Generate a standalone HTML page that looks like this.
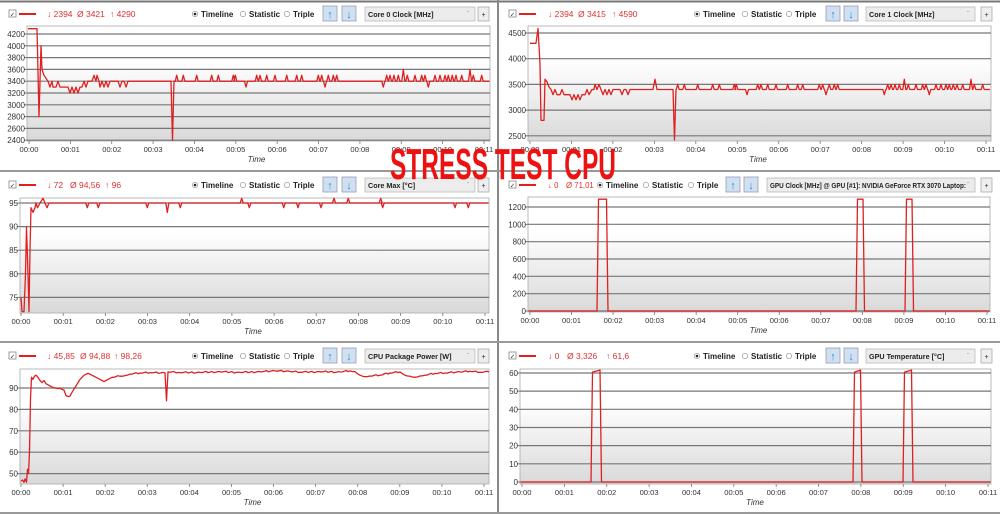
<!DOCTYPE html>
<html><head><meta charset="utf-8">
<style>
html,body{margin:0;padding:0;background:#fff;width:1000px;height:514px;overflow:hidden}
svg{display:block}
text{font-family:"Liberation Sans",sans-serif}
</style></head>
<body>
<svg id="s" width="1000" height="514" viewBox="0 0 1000 514" xmlns="http://www.w3.org/2000/svg">
<defs>
<linearGradient id="bg" x1="0" y1="0" x2="0" y2="1">
<stop offset="0" stop-color="#ffffff"/>
<stop offset="0.3" stop-color="#ffffff"/>
<stop offset="1" stop-color="#d9d9d9"/>
</linearGradient>
</defs>
</svg>
<script>
var S=document.getElementById('s');var out='';
function T(x,y,s,o){o=o||{};out+='<text x="'+x+'" y="'+y+'" font-size="'+(o.fs||8)+'" fill="'+(o.c||'#222')+'"'+(o.b?' font-weight="bold"':'')+(o.a?' text-anchor="'+o.a+'"':'')+(o.i?' font-style="italic"':'')+(o.tl?' textLength="'+o.tl+'" lengthAdjust="spacingAndGlyphs"':'')+'>'+s+'</text>';}
function R(x,y,w,h,f,st){out+='<rect x="'+x+'" y="'+y+'" width="'+w+'" height="'+h+'" fill="'+f+'"'+(st?' stroke="'+st+'" stroke-width="0.8"':'')+'/>';}
function L(x1,y1,x2,y2,c,w){out+='<line x1="'+x1+'" y1="'+y1+'" x2="'+x2+'" y2="'+y2+'" stroke="'+c+'" stroke-width="'+w+'"/>';}
L(0,1.5,1000,1.5,'#777',2);
L(498,0,498,514,'#888',2);
L(0,171,1000,171,'#999',2);
L(0,342,1000,342,'#999',2);
L(0,513,1000,513,'#999',2);

function header(ox,hy,vals,drop,pos){
 R(ox+9,hy-4,7,7,'#fff','#888');T(ox+10,hy+2.5,'✓',{fs:6});
 L(ox+19,hy,ox+36,hy,'#e02020',2);
 T(pos.v1,hy+3,vals[0],{c:'#e03030',fs:pos.vf||8.5});
 T(pos.v2,hy+3,vals[1],{c:'#e03030',fs:pos.vf||8.5});
 if(vals[2])T(pos.v3,hy+3,vals[2],{c:'#e03030',fs:8.5});
 function radio(x,lab,on){out+='<circle cx="'+x+'" cy="'+hy+'" r="2.7" fill="#fff" stroke="#888" stroke-width="0.6"/>';if(on)out+='<circle cx="'+x+'" cy="'+hy+'" r="1.3" fill="#222"/>';T(x+6,hy+3,lab,{b:1,fs:8});}
 radio(pos.tl,'Timeline',1);radio(pos.st,'Statistic');radio(pos.tr,'Triple');
 R(pos.b1,hy-8,14,15,'#cfe0f0','#99b');T(pos.b1+7,hy+4,'↑',{fs:11,c:'#3a8ad8',a:'middle',b:1});
 R(pos.b2,hy-8,14,15,'#cfe0f0','#99b');T(pos.b2+7,hy+4,'↓',{fs:11,c:'#3a8ad8',a:'middle',b:1});
 R(pos.dd,hy-7,pos.dw,14,'#ececec','#bbb');T(pos.dd+3,hy+3,drop,{b:1,fs:7.2,tl:pos.dtl});T(pos.dd+pos.dw-8,hy+2,'ˇ',{fs:6,c:'#888'});
 R(pos.pl,hy-7,11,14,'#eee','#aaa');T(pos.pl+5.5,hy+3,'+',{fs:7,a:'middle'});
}
function plot(p){
 R(p.x0,p.y0,p.x1-p.x0,p.y1-p.y0,'url(#bg)','#aaa');
 p.yt.forEach(function(t){var y=p.fy(t);L(p.x0,y,p.x1,y,'#777',1.2);L(p.x0-3,y,p.x0,y,'#777',1);T(p.x0-2,y+3,t,{a:'end',fs:8,c:'#333'});});
 for(var i=0;i<=11;i++){var x=p.tx0+(p.tx1-p.tx0)*i/11;L(x,p.y1,x,p.y1+3,'#777',0.8);T(x,p.y1+11,'00:'+(i<10?'0':'')+i,{a:'middle',fs:7.6,c:'#333'});}
 T((p.tx0+p.tx1)/2,p.y1+21,'Time',{i:1,a:'middle',fs:8,c:'#333'});
 var d='';p.pts.forEach(function(q,i){d+=(i?'L':'M')+q[0].toFixed(1)+' '+p.fy(q[1]).toFixed(1);});
 out+='<path d="'+d+'" fill="none" stroke="#e02020" stroke-width="1.3" stroke-linejoin="round"/>';
}
function spiky(start,base,spikes,end){
 var pts=start.slice();spikes.sort(function(a,b){return a[0]-b[0]});
 spikes.forEach(function(s){var w=s[2]||1.5;pts.push([s[0]-w,base],[s[0],s[1]],[s[0]+w,base]);});
 pts.push([end,base]);return pts;}
var tlSp=[[530,3500],[550,3500],[590,3500],[635,3500],[655,3500],[700,3500],[706,3500],[738,3300],[770,3500],[780,3500],[800,3500],[825,3500],[860,3500],[890,3500],[905,3500],[955,3500],[965,3500],[975,3300],[985,3500],[1000,3500],[1010,3500],[1150,3300],[1160,3500],[1170,3500],[1182,3500],[1195,3500],[1210,3600],[1222,3500],[1245,3500],[1265,3500],[1275,3500],[1285,3300],[1305,3500],[1320,3500],[1335,3500],[1345,3500],[1357,3500],[1368,3500],[1385,3500],[1410,3600],[1420,3500],[1445,3500]].map(function(s){return [s[0]/3,s[1],1.5]});
var tlStart=[[28,4290],[37,4290],[39,2800],[41,4000],[42,3600],[44,3500],[46,3450],[48,3400],[50,3300],[52,3400],[53,3300],[56,3300],[58,3400],[60,3300],[64,3300],[68,3300],[70,3200],[72,3300],[74,3200],[76,3300],[78,3200],[80,3300],[82,3300],[84,3400],[86,3300],[88,3400],[92,3400],[94,3500],[96,3400],[97,3500],[99,3400],[100,3300],[102,3400],[104,3300],[106,3400],[108,3300],[110,3400],[112,3400],[118,3400],[120,3300],[122,3400],[124,3400],[126,3300],[128,3400],[171,3400],[172.5,2400],[174,3400],[176,3400]];
header(0,14,['↓ 2394','Ø 3421','↑ 4290'],'Core 0 Clock [MHz]',{v1:47,v2:77,v3:110,tl:195,st:243,tr:287,b1:323,b2:342,dd:365,dw:110,pl:478});
plot({x0:27,x1:490,y0:26,y1:141,tx0:29,tx1:484,yt:[4200,4000,3800,3600,3400,3200,3000,2800,2600,2400],fy:function(v){return 34+(4200-v)/200*11.8},pts:spiky(tlStart,3400,tlSp,489)});
var trSp=tlSp.map(function(s){return [s[0]+501,s[1],1.5]}).filter(function(s){return s[0]>676});
var trStart=[[530,4300],[536,4300],[538,4590],[540,3900],[541,2800],[544,2800],[545,3600],[547,3550],[549,3450],[551,3400],[553,3300],[555,3400],[557,3300],[560,3300],[562,3400],[564,3300],[570,3300],[572,3200],[574,3300],[576,3200],[578,3300],[580,3200],[582,3300],[585,3300],[587,3400],[589,3300],[592,3400],[594,3400],[595,3500],[597,3400],[599,3500],[601,3400],[603,3300],[605,3400],[607,3300],[609,3400],[611,3300],[613,3400],[620,3400],[622,3300],[624,3400],[626,3400],[628,3300],[630,3400],[653,3400],[655,3600],[657,3400],[673,3400],[674.5,2420],[676,3400]];
header(500,14,['↓ 2394','Ø 3415','↑ 4590'],'Core 1 Clock [MHz]',{v1:548,v2:578,v3:612,tl:697,st:745,tr:789,b1:826,b2:844,dd:866,dw:109,pl:981});
plot({x0:528,x1:991,y0:26,y1:141,tx0:530,tx1:986,yt:[4500,4000,3500,3000,2500],fy:function(v){return 33+(4500-v)/500*25.7},pts:spiky(trStart,3400,trSp,990)});
var mlStart=[[21,75],[22,72],[24,72],[25.5,80],[26.5,90],[28,80],[29,72],[30,85],[31,94],[33,93],[35,94],[36,95],[37.5,94],[40,95],[43,96],[45,95],[47,94],[49,95]];
var mlSp=[[262,94],[295,94],[442,94],[502,93],[541,94],[725,96],[748,94],[851,94],[894,94],[963,94],[1002,96],[1045,96],[1142,96],[1148,94],[1365,94],[1405,94]].map(function(s){return [s[0]/3,s[1],1.5]});
header(0,185,['↓ 72','Ø 94,56','↑ 96'],'Core Max [°C]',{v1:47,v2:70,v3:105,tl:195,st:243,tr:287,b1:323,b2:342,dd:365,dw:110,pl:478});
plot({x0:20,x1:489,y0:198,y1:313,tx0:21,tx1:485,yt:[95,90,85,80,75],fy:function(v){return 203+(95-v)*4.72},pts:spiky(mlStart,95,mlSp,488)});
function pulses(x0,x1,ps,hi,hi2){var p=[[x0,0]];ps.forEach(function(a){p.push([a[0],0],[a[0]+1.5,hi],[a[1]-1.5,hi2],[a[1],0]);});p.push([x1,0]);return p;}
header(500,185,['↓ 0','Ø 71,01',''],'GPU Clock [MHz] @ GPU [#1]: NVIDIA GeForce RTX 3070 Laptop:',{v1:548,v2:566,v3:0,vf:7.8,tl:600,st:646,tr:691,b1:726,b2:744,dd:767,dw:208,dtl:196,pl:981});
plot({x0:528,x1:990,y0:197,y1:312,tx0:530,tx1:987,yt:[1200,1000,800,600,400,200,0],fy:function(v){return 311-(v/1200)*104},pts:pulses(529,989,[[597,608],[856,864.5],[905,913.5]],1290,1290)});
var blPts=[[21,46.5],[22.5,47],[24,46],[25,47.5],[26.5,46],[27.5,52],[28.5,50],[29.5,60],[30.5,85],[31.5,95],[33,94],[34.5,95.5],[36,96],[38,95],[40,93.5],[42,92.5],[44,93.5],[46,92],[50,91],[55,90],[60,89.8],[64,89],[66,86.5],[68,86],[70,86.2],[72,88],[76,91],[80,94],[84,96],[88,96.8],[92,96],[96,95],[100,94],[104,93],[108,94],[112,95],[120,95.5],[125,95.8],[130,96.5],[140,97],[150,97.2],[165,97],[166.5,84],[168,97.5],[180,97.2],[200,97.3],[220,97.6],[240,97.3],[260,97.6],[275,98],[290,97.7],[300,97.4],[320,97.6],[340,97.5],[350,98],[355,97.6],[360,96],[365,95.3],[370,95.6],[380,96],[390,97],[400,97.5],[405,96],[410,95.5],[415,95],[420,95.6],[425,96],[435,96.8],[445,97],[460,97.5],[470,97.8],[480,97.4],[489,97.5]];
var bl2=[];for(var i=0;i<blPts.length-1;i++){var a=blPts[i],b=blPts[i+1];bl2.push(a);if(a[0]>35&&b[0]-a[0]>4){var n=Math.floor((b[0]-a[0])/2);for(var k=1;k<n;k++){var t=k/n;bl2.push([a[0]+(b[0]-a[0])*t,a[1]+(b[1]-a[1])*t+((k*37%7)-3)*0.12]);}}}bl2.push(blPts[blPts.length-1]);
header(0,356,['↓ 45,85','Ø 94,88','↑ 98,26'],'CPU Package Power [W]',{v1:47,v2:80,v3:114,tl:195,st:243,tr:287,b1:323,b2:342,dd:365,dw:110,pl:478});
plot({x0:20,x1:489,y0:369,y1:484,tx0:21,tx1:484,yt:[90,80,70,60,50],fy:function(v){return 388+(90-v)*2.14},pts:bl2});
header(500,356,['↓ 0','Ø 3,326','↑ 61,6'],'GPU Temperature [°C]',{v1:548,v2:567,v3:606,tl:697,st:745,tr:789,b1:826,b2:844,dd:866,dw:109,pl:981});
plot({x0:520,x1:991,y0:369,y1:484,tx0:522,tx1:988,yt:[60,50,40,30,20,10,0],fy:function(v){return 482-v*1.817},pts:pulses(521,990,[[591,601.5],[853,862],[903,913]],60.5,61.6)});
out+='<text x="390" y="179" font-family="Liberation Sans Narrow, Liberation Sans, sans-serif" font-weight="bold" font-size="44" fill="#ee1111" textLength="226" lengthAdjust="spacingAndGlyphs">STRESS TEST CPU</text>';
S.insertAdjacentHTML('beforeend',out);
</script>
</body></html>
